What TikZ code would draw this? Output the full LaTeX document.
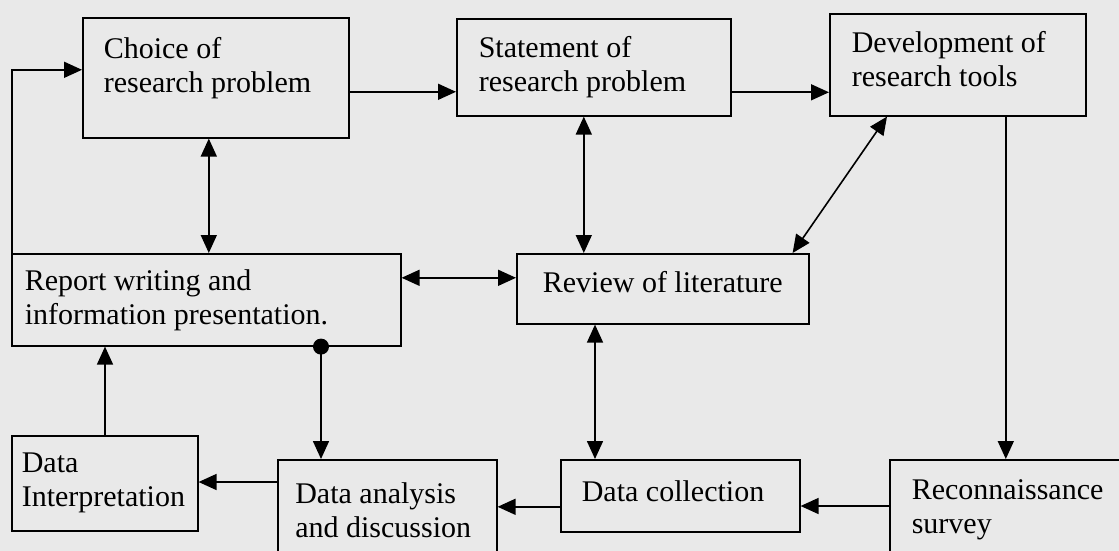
\documentclass[tikz,border=0pt]{standalone}
\usepackage{fontspec}
\setmainfont{Liberation Serif}
\usetikzlibrary{arrows.meta}
\definecolor{scanbg}{RGB}{233,233,233}

\begin{document}
\begin{tikzpicture}[
    x=0.5pt,
    y=-0.5pt,
    stage/.style={
        draw,
        anchor=north west,
        align=flush left,
        inner ysep=0pt,
        line width=0.8pt,
        font=\fontsize{15}{17}\selectfont
    },
    link/.style={line width=0.8pt,-{Triangle[length=9pt,width=8pt]}},
    twoway/.style={line width=0.8pt,{Triangle[length=9pt,width=8pt]}-{Triangle[length=9pt,width=8pt]}}
]
\clip (0,0) rectangle (1119,551);
\fill[scanbg] (0,0) rectangle (1119,551);

\node[stage,text width=112pt,inner xsep=10.5pt,minimum height=60pt,text depth=30.3pt] (choice) at (82,17)
    {Choice of\\research problem};
\node[stage,text width=115pt,inner xsep=11pt,minimum height=48.5pt] (stat) at (456,18)
    {Statement of\\research problem};
\node[stage,text width=106pt,inner xsep=11pt,minimum height=51pt,text depth=23.3pt] (dev) at (829,13)
    {Development of\\research tools};
\node[stage,text width=181.5pt,inner xsep=6.5pt,minimum height=46pt] (rep) at (11,253)
    {Report writing and\\information presentation.};
\node[stage,text width=125pt,inner xsep=10.5pt,minimum height=35pt,align=flush center,text depth=7pt] (rev) at (516,253)
    {Review of literature};
\node[stage,text width=83pt,inner xsep=5pt,minimum height=47.5pt] (interp) at (11,435)
    {Data\\Interpretation};
\node[stage,text width=92pt,inner xsep=8.75pt,minimum height=50pt] (ana) at (277,459)
    {Data analysis\\and discussion};
\node[stage,text width=98.5pt,inner xsep=10.5pt,minimum height=36pt,text depth=5pt] (coll) at (560,459)
    {Data collection};
\node[stage,text width=103pt,inner xsep=11pt,minimum height=50pt] (recon) at (889,459)
    {Reconnaissance\\survey};

\draw[link] ([xshift=0.5pt]rep.north west) |- ([yshift=4pt]choice.west);
\draw[twoway] ([xshift=-3.5pt]choice.south) -- ([xshift=-3.5pt]choice.south |- rep.north);
\draw[link] ([yshift=-7pt]choice.east) -- ([yshift=-7pt]choice.east -| stat.west);
\draw[link] ([yshift=-12.5pt]stat.east) -- ([yshift=-12.5pt]stat.east -| dev.west);
\draw[twoway] ([xshift=-5pt]stat.south) -- ([xshift=-5pt]stat.south |- rev.north);
\draw[twoway] ([xshift=29pt]dev.south west) -- ([xshift=-8.5pt]rev.north east);
\draw[link] ([xshift=24pt]dev.south) -- ([xshift=24pt]dev.south |- recon.north);
\draw[twoway] ([yshift=5.5pt]rev.west) -- ([yshift=5.5pt]rev.west -| rep.east);
\draw[twoway] ([xshift=39.5pt]rev.south west) -- ([xshift=39.5pt]rev.south west |- coll.north);
\draw[link] ([yshift=-23.5pt]recon.north west) -- ([yshift=-23.5pt]recon.north west -| coll.east);
\draw[link] ([yshift=-5.5pt]coll.west) -- ([yshift=-5.5pt]coll.west -| ana.east);
\draw[link] ([yshift=-11.5pt]ana.north west) -- ([yshift=-11.5pt]ana.north west -| interp.east);
\draw[link] ([xshift=47pt]interp.north west) -- ([xshift=47pt]interp.north west |- rep.south);
\coordinate (dot) at ([xshift=155pt]rep.south west);
\draw[link] (dot) -- (dot |- ana.north);
\fill (dot) circle (4pt);
\end{tikzpicture}
\end{document}
